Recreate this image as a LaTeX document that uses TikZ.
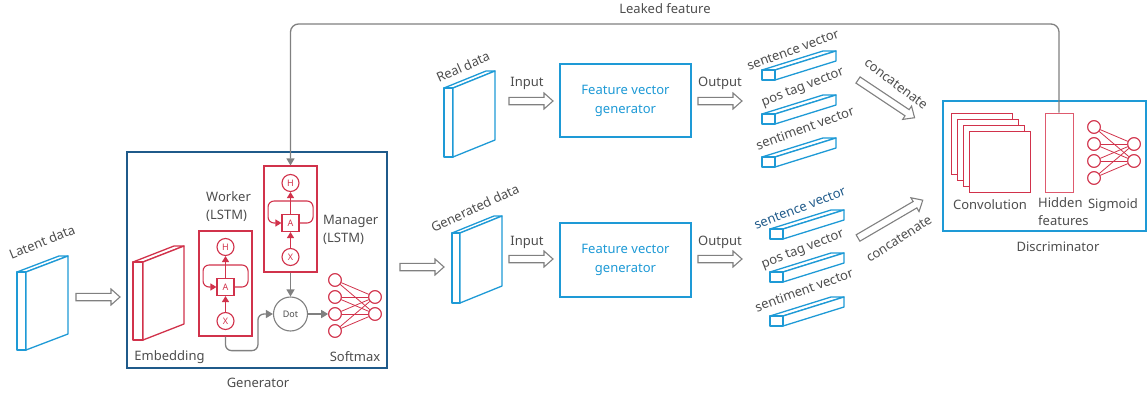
\documentclass[tikz,border=0pt]{standalone}
\usepackage{fontspec}
\setmainfont{Noto Sans}
\usetikzlibrary{arrows.meta,calc}
\definecolor{cblue}{HTML}{1E9AD6}
\definecolor{cred}{HTML}{D1324B}
\definecolor{clred}{HTML}{DE5A6E}
\definecolor{cdark}{HTML}{1F5A8A}
\definecolor{cgray}{HTML}{808080}
\definecolor{ctext}{HTML}{4D4D4D}
\tikzset{
  lbl/.style={text=ctext, font=\fontsize{13}{18}\selectfont, inner sep=0pt},
  bluebox/.style={draw=cblue, line width=1.3pt, fill=white, inner sep=0pt},
  redbox/.style={draw=cred, line width=1.2pt, fill=white, inner sep=0pt},
  redline/.style={draw=cred, line width=1.2pt, line join=round},
  blueline/.style={draw=cblue, line width=1.3pt, line join=round, fill=white},
  netline/.style={draw=cred, line width=0.8pt},
  netnode/.style={circle, draw=cred, line width=1pt, fill=white, minimum size=12.6pt, inner sep=0pt},
  cellcirc/.style={circle, draw=cred, line width=1.1pt, fill=white, minimum size=17pt, inner sep=0pt, text=cred, font=\fontsize{9}{10}\selectfont},
  cellbox/.style={rectangle, draw=cred, line width=1.1pt, fill=white, minimum size=17pt, inner sep=0pt, text=cred, font=\fontsize{9}{10}\selectfont},
  redarrow/.style={draw=cred, line width=1.1pt, -{Triangle[length=6pt,width=7pt]}},
  grayarrow/.style={draw=cgray, line width=1.3pt, -{Triangle[length=7pt,width=8pt]}},
  blockarrow/.style={draw=cgray, line width=1.1pt, fill=white, line join=miter},
}
\newcommand\slab[7]{% x ytop t w h rise colour
  \draw[line width=1.3pt, draw=#7, fill=white, line join=round]
    (#1,#2) -- (#1+#3,#2) -- (#1+#3+#4,#2-#6) -- (#1+#4,#2-#6) -- cycle;
  \draw[line width=1.3pt, draw=#7, fill=white, line join=round]
    (#1,#2) rectangle (#1+#3,#2+#5);
  \draw[line width=1.3pt, draw=#7, fill=white, line join=round]
    (#1+#3,#2) -- (#1+#3+#4,#2-#6) -- (#1+#3+#4,#2-#6+#5) -- (#1+#3,#2+#5) -- cycle;
}
\newcommand\vect[2]{% x y of front face top-left
  \draw[blueline] (#1,#2) -- (#1+61,#2-19) -- (#1+74,#2-19) -- (#1+13,#2) -- cycle;
  \draw[blueline] (#1+13,#2) -- (#1+74,#2-19) -- (#1+74,#2-9) -- (#1+13,#2+10) -- cycle;
  \draw[blueline] (#1,#2) rectangle (#1+13,#2+10);
}
\newcommand\barrow[4]{% x y length angle
  \begin{scope}[shift={(#1,#2)}, rotate=#4]
    \draw[blockarrow] (0,-3.7) -- (#3-9,-3.7) -- (#3-9,-8) -- (#3,0) -- (#3-9,8) -- (#3-9,3.7) -- (0,3.7) -- cycle;
  \end{scope}
}
\newcommand\lstmcell[3]{% prefix cx ay
  \node[cellbox] (#1A) at (#2,#3) {A};
  \node[cellcirc] (#1H) at (#2,#3-40) {H};
  \node[cellcirc] (#1X) at (#2,#3+34) {X};
  \draw[redarrow] (#1X) -- (#1A);
  \draw[redarrow] (#1A) -- (#1H);
  \draw[redarrow, rounded corners=6pt] (#1A.east) -- ++(13.5,0) -- ++(0,-22) -- ++(-45,0) -- ++(0,22) -- (#1A.west);
}
\begin{document}
\begin{tikzpicture}[x=1pt,y=-1pt]
\useasboundingbox (0,0) rectangle (1148,396);

% ---------- Generator ----------
\node[draw=cdark, line width=1.4pt, minimum width=260pt, minimum height=216pt, inner sep=0pt] (gen) at (257,260) {};
\node[lbl] (genl) at (258,383) {Generator};

\node[redbox, minimum width=53pt, minimum height=106pt] (mgr) at (290.5,219) {};
\node[redbox, minimum width=53pt, minimum height=105pt] (wrk) at (225.5,283.5) {};
\lstmcell{m}{290.5}{223}
\lstmcell{w}{225.5}{287}
\node[lbl, anchor=west, align=left] (mgrl) at (323,229.5) {Manager\\(LSTM)};
\node[lbl, anchor=west, align=left] (wrkl) at (206,207) {Worker\\(LSTM)};

\node[circle, draw=cgray, line width=1.1pt, minimum size=34pt, inner sep=0pt, fill=white,
      font=\fontsize{9}{10}\selectfont, text=ctext] (dot) at (290.5,314) {Dot};
\draw[grayarrow] (mgr.south) -- (dot.north);
\coordinate (wbend) at ($(dot.west)+(-15,0)$);
\draw[grayarrow, rounded corners=6pt] (wrk.south) -- ++(0,14) -| (wbend) -- (dot.west);

% embedding
\slab{133}{262}{10}{41}{78}{16}{cred}
\node[lbl] (embl) at (169.5,357) {Embedding};

% softmax net
\foreach \i/\y in {1/280,2/297,3/314,4/331} \node[netnode] (sL\i) at (335,\y) {};
\foreach \i/\y in {1/297,2/314} \node[netnode] (sR\i) at (375,\y) {};
\foreach \i in {1,...,4} \foreach \j in {1,2} \draw[netline] (sL\i) -- (sR\j);
\foreach \i in {1,...,4} \node[netnode] at (sL\i) {};
\foreach \j in {1,2} \node[netnode] at (sR\j) {};
\draw[grayarrow] (dot.east) -- (sL3.west);
\node[lbl] (sml) at (355,357) {Softmax};

% ---------- latent ----------
\slab{17}{272}{9}{42}{78}{16}{cblue}
\node[lbl, rotate=22] (latl) at (42,242) {Latent data};
\barrow{76}{297}{44}{0}

% ---------- real data row ----------
\slab{444}{88}{9}{42}{69}{17}{cblue}
\node[lbl, rotate=24] (reall) at (463,67) {Real data};
\barrow{509}{101}{44}{0}
\node[lbl] (in1) at (527,83) {Input};
\node[bluebox, minimum width=131pt, minimum height=73pt, text=cblue, align=center,
      font=\fontsize{13}{19}\selectfont] (fvg1) at (625.5,100.5) {Feature vector\\generator};
\barrow{698}{101}{44}{0}
\node[lbl] (out1) at (720,83) {Output};
\vect{762}{70}
\vect{762}{114}
\vect{762}{157}
\node[lbl, rotate=20] (v11) at (793,50) {sentence vector};
\node[lbl, rotate=21] (v12) at (803,88) {pos tag vector};
\node[lbl, rotate=20] (v13) at (805,128) {sentiment vector};
\barrow{858}{80}{68}{-33.7}
\node[lbl, rotate=-37] (cat1) at (896,84) {concatenate};

% ---------- generated row ----------
\barrow{400}{267}{44}{0}
\slab{452}{233}{8}{42}{70}{17}{cblue}
\node[lbl, rotate=25] (genll) at (475,208) {Generated data};
\barrow{509}{259}{44}{0}
\node[lbl] (in2) at (527,242) {Input};
\node[bluebox, minimum width=131pt, minimum height=74pt, text=cblue, align=center,
      font=\fontsize{13}{19}\selectfont] (fvg2) at (625.5,260) {Feature vector\\generator};
\barrow{698}{259}{44}{0}
\node[lbl] (out2) at (720,242) {Output};
\vect{770}{229}
\vect{770}{272}
\vect{770}{316}
\node[lbl, rotate=21, text=cdark] (v21) at (800,208) {sentence vector};
\node[lbl, rotate=21] (v22) at (803,250) {pos tag vector};
\node[lbl, rotate=20] (v23) at (804,290) {sentiment vector};
\barrow{858}{238}{75}{30.3}
\node[lbl, rotate=33] (cat2) at (899,239) {concatenate};

% ---------- Discriminator ----------
\node[bluebox, fill=none, minimum width=203pt, minimum height=130pt] (disc) at (1044.5,166) {};
\node[lbl] (discl) at (1058,247) {Discriminator};
\foreach \k in {0,1,2,3}
  \node[redbox, minimum size=61pt, anchor=north west] (conv\k) at (951+6*\k,113+6*\k) {};
\node[lbl] (convl) at (990,205) {Convolution};
\node[redbox, draw=clred, line width=0.9pt, minimum width=28pt, minimum height=79pt] (hid) at (1059,152.5) {};
\node[lbl, anchor=west, align=left] (hidl) at (1038,212) {Hidden\\features};
\foreach \i/\y in {1/127,2/144,3/161,4/178} \node[netnode] (gL\i) at (1094,\y) {};
\foreach \i/\y in {1/144,2/161} \node[netnode] (gR\i) at (1134,\y) {};
\foreach \i in {1,...,4} \foreach \j in {1,2} \draw[netline] (gL\i) -- (gR\j);
\foreach \i in {1,...,4} \node[netnode] at (gL\i) {};
\foreach \j in {1,2} \node[netnode] at (gR\j) {};
\node[lbl] (sigl) at (1113,205) {Sigmoid};

% ---------- leaked feature ----------
\coordinate (ltop) at (1059,24);
\draw[grayarrow, rounded corners=8pt] (hid.north) -- (ltop) -| (mgr.north);
\node[lbl] (leakl) at (665,9) {Leaked feature};
\end{tikzpicture}
\end{document}
